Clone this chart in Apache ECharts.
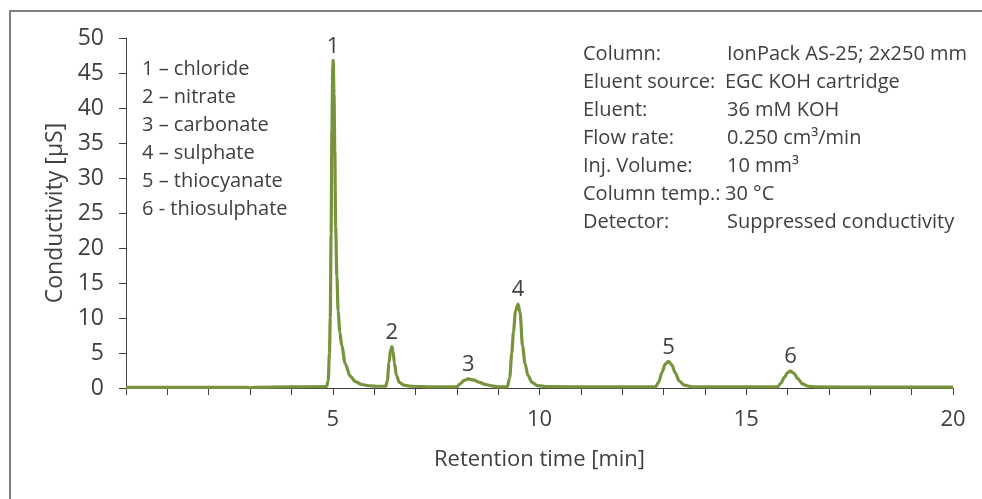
<!DOCTYPE html>
<html>
<head>
<meta charset="utf-8">
<script src="https://cdn.jsdelivr.net/npm/echarts@6/dist/echarts.min.js"></script>
<style>
  html, body { margin: 0; padding: 0; background: #fff; }
  #chart { width: 982px; height: 499px; }
</style>
</head>
<body>
<div id="chart"></div>
<script>
// retention time [min] and conductivity [µS]
var times = [
  0, 1, 2, 2.9, 3.0, 3.1, 4.0, 4.8,
  4.85, 4.89, 4.92, 4.94, 4.96, 4.98, 5.00, 5.01, 5.03, 5.05, 5.07, 5.10, 5.13, 5.17, 5.22, 5.30, 5.42, 5.55, 5.70, 5.90, 6.10,
  6.28, 6.32, 6.36, 6.40, 6.43, 6.46, 6.49, 6.54, 6.61, 6.72, 6.90,
  7.5, 8.00, 8.08, 8.18, 8.28, 8.40, 8.55, 8.70, 8.85, 9.00,
  9.22, 9.28, 9.33, 9.37, 9.42, 9.48, 9.53, 9.59, 9.65, 9.72, 9.82, 9.95, 10.2,
  11.5, 12.80, 12.88, 12.96, 13.04, 13.12, 13.20, 13.28, 13.38, 13.50, 13.70,
  14.7, 15.75, 15.84, 15.93, 16.00, 16.07, 16.15, 16.25, 16.36, 16.50, 16.70,
  18, 20
];
var conductivity = [
  0.1, 0.1, 0.1, 0.1, 0.03, 0.1, 0.15, 0.2,
  0.2, 1, 5, 10, 22, 37, 46, 46.8, 42, 34, 23, 16, 11, 8, 6, 3.5, 1.7, 0.9, 0.5, 0.3, 0.25,
  0.25, 1, 3.6, 5.5, 5.9, 5.2, 3.6, 1.8, 0.8, 0.4, 0.25,
  0.15, 0.15, 0.6, 1.1, 1.3, 1.15, 0.8, 0.5, 0.3, 0.15,
  0.15, 1.5, 5, 8, 11, 12.0, 10.8, 6, 3.5, 1.8, 0.8, 0.35, 0.2,
  0.15, 0.15, 0.8, 2.2, 3.4, 3.8, 3.3, 2.2, 1.0, 0.4, 0.15,
  0.15, 0.15, 0.7, 1.6, 2.2, 2.4, 2.1, 1.3, 0.6, 0.25, 0.15,
  0.12, 0.12
];

var peakLabels = ["1", "2", "3", "4", "5", "6"];
var peakTimes = [5.01, 6.43, 8.28, 9.48, 13.12, 16.07];
var peakHeights = [46.8, 5.9, 1.3, 12.0, 3.8, 2.4];

var xTickLabels = ["5", "10", "15", "20"];

var legendLines = [
  "1 \u2013 chloride",
  "2 \u2013 nitrate",
  "3 \u2013 carbonate",
  "4 \u2013 sulphate",
  "5 \u2013 thiocyanate",
  "6 - thiosulphate"
];
var infoKeys = ["Column:", "Eluent source:", "Eluent:", "Flow rate:", "Inj. Volume:", "Column temp.:", "Detector:"];
var infoValues = ["IonPack AS-25; 2x250 mm", "EGC KOH cartridge", "36 mM KOH", "0.250 cm\u00b3/min", "10 mm\u00b3", "30 \u00b0C", "Suppressed conductivity"];

var FONT = "'Segoe UI', 'Open Sans', 'Noto Sans', sans-serif";
var TXT = "#404040";

var chart = echarts.init(document.getElementById("chart"));

var graphics = [{
  type: "rect",
  shape: { x: 10, y: 11, width: 1000, height: 1000 },
  style: { fill: "none", stroke: "#808080", lineWidth: 2 },
  silent: true
}];
legendLines.forEach(function (s, i) {
  graphics.push({
    type: "text", left: 142, top: 59 + i * 28,
    style: { text: s, font: "20px " + FONT, fill: TXT }
  });
});
infoKeys.forEach(function (s, i) {
  graphics.push({
    type: "text", left: 583, top: 44 + i * 28,
    style: { text: s, font: "20px " + FONT, fill: TXT }
  });
  graphics.push({
    type: "text", left: i === 1 || i === 5 ? 725 : 727, top: 44 + i * 28,
    style: { text: infoValues[i], font: "20px " + FONT, fill: TXT }
  });
});

chart.setOption({
  backgroundColor: "#fff",
  animation: false,
  textStyle: { fontFamily: FONT },
  grid: { left: 126, right: 29, top: 38, bottom: 111 },
  xAxis: {
    type: "value",
    min: 0,
    max: 20,
    interval: 1,
    name: "Retention time [min]",
    nameLocation: "middle",
    nameGap: 61,
    nameTextStyle: { fontSize: 22, color: TXT, fontFamily: FONT },
    axisLine: { onZero: false, lineStyle: { color: "#404040", width: 1 } },
    axisTick: { show: true, length: 7, lineStyle: { color: "#404040" } },
    axisLabel: {
      fontSize: 22, color: TXT, margin: 21,
      formatter: function (v) {
        var s = String(v);
        return xTickLabels.indexOf(s) >= 0 ? s : "";
      }
    },
    splitLine: { show: false }
  },
  yAxis: {
    type: "value",
    min: 0,
    max: 50,
    interval: 5,
    name: "Conductivity [\u00b5S]",
    nameLocation: "middle",
    nameGap: 56,
    nameTextStyle: { fontSize: 23, color: TXT, fontFamily: FONT },
    axisLine: { show: true, lineStyle: { color: "#404040", width: 1 } },
    axisTick: { show: true, length: 7, lineStyle: { color: "#404040" } },
    axisLabel: { fontSize: 23, color: TXT, margin: 22 },
    splitLine: { show: false }
  },
  graphic: graphics,
  series: [
    {
      type: "line",
      data: times.map(function (t, i) { return [t, conductivity[i]]; }),
      showSymbol: false,
      smooth: 0.3,
      smoothMonotone: "x",
      lineStyle: { color: "#77933c", width: 3.2 },
      z: 3
    },
    {
      type: "scatter",
      symbolSize: 0,
      itemStyle: { opacity: 1 },
      data: peakTimes.map(function (t, i) { return { value: [t, peakHeights[i]], name: peakLabels[i] }; }),
      label: {
        show: true, position: "top", distance: 3,
        formatter: "{b}", fontSize: 22, color: TXT, fontFamily: FONT
      },
      silent: true,
      z: 4
    }
  ]
});
</script>
</body>
</html>
